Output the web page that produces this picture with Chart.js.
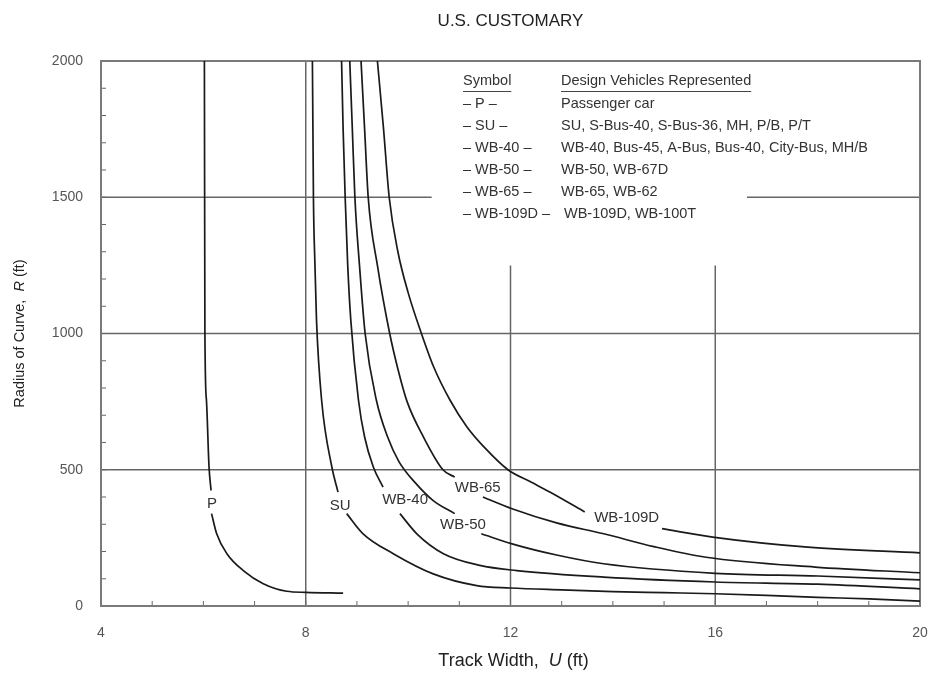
<!DOCTYPE html>
<html>
<head>
<meta charset="utf-8">
<script src="https://cdn.jsdelivr.net/npm/chart.js@4.4.0/dist/chart.umd.min.js"></script>
<style>
  html, body { margin: 0; padding: 0; background: #fff; }
  #wrap { width: 935px; height: 684px; }
</style>
</head>
<body>
<div id="wrap"><canvas id="grafico"></canvas></div>
<script>
// ancho de via U (ft) contra radio R (ft); null = hueco donde va la etiqueta
const uP = [6.02, 6.03, 6.06, 6.11, 6.15, 6.155, 6.16, 6.26, 6.46, 6.78, 7.17, 7.63, 8.0, 8.73];
const rP = [2000, 1000, 755, 512, 424, null, 339, 265, 192, 130, 82, 54, 50, 47];

const uSU = [8.13, 8.14, 8.15, 8.18, 8.21, 8.31, 8.51, 8.63, 8.7, 8.80, 9.12, 9.71, 10.49, 11.34, 12, 13, 14, 15, 16, 17, 18, 19, 20];
const rSU = [2000, 1750, 1502, 1250, 1049, 755, 510, 418, null, 339, 265, 192, 118, 75, 66, 59, 53, 49, 45, 39, 32, 26, 18];

const uWB40 = [8.70, 8.73, 8.77, 8.82, 8.88, 9.03, 9.15, 9.32, 9.51, 9.7, 9.84, 10.17, 10.69, 11.40, 12.12, 13.82, 16, 18, 20];
const rWB40 = [2000, 1750, 1500, 1250, 1049, 755, 620, 510, 436, null, 339, 265, 192, 149, 130, 106, 88, 80, 63];

const uWB50 = [8.86, 8.91, 8.96, 9.05, 9.16, 9.38, 9.6, 9.82, 10.15, 10.49, 10.91, 11.2, 11.43, 12.03, 12.9, 13.82, 16, 18, 20];
const rWB50 = [2000, 1750, 1500, 1250, 1000, 755, 620, 530, 450, 387, 339, null, 265, 228, 187, 155, 120, 110, 96];

const uWB65 = [9.08, 9.15, 9.22, 9.40, 9.64, 9.80, 9.98, 10.3, 10.68, 10.91, 11.2, 11.46, 12.03, 12.9, 13.82, 14.8, 15.82, 17.95, 20];
const rWB65 = [2000, 1750, 1500, 1250, 1000, 870, 750, 620, 500, 473, null, 400, 357, 305, 265, 218, 179, 143, 122];

const uWB109 = [9.40, 9.52, 9.63, 9.80, 10.00, 10.26, 10.50, 10.82, 11.15, 11.50, 11.95, 12.40, 12.83, 13.45, 14.2, 14.96, 15.95, 17.81, 20];
const rWB109 = [2000, 1750, 1500, 1300, 1150, 1000, 877, 755, 657, 580, 500, 455, 412, 345, null, 284, 253, 216, 195];

const etiquetas = ['P', 'SU', 'WB-40', 'WB-50', 'WB-65', 'WB-109D'];
const etiquetaU = [6.17, 8.67, 9.94, 11.07, 11.36, 14.27];
const etiquetaR = [376, 369, 388, 296, 432, 325];

const xTicks = [4, 8, 12, 16, 20];
const yTicks = [0, 500, 1000, 1500, 2000];

const simbolos = ['\u2013 P \u2013', '\u2013 SU \u2013', '\u2013 WB-40 \u2013', '\u2013 WB-50 \u2013', '\u2013 WB-65 \u2013', '\u2013 WB-109D \u2013'];
const vehiculos = [
  'Passenger car',
  'SU, S-Bus-40, S-Bus-36, MH, P/B, P/T',
  'WB-40, Bus-45, A-Bus, Bus-40, City-Bus, MH/B',
  'WB-50, WB-67D',
  'WB-65, WB-62',
  'WB-109D, WB-100T'
];

const fuente = '"Liberation Sans", Arial, sans-serif';

function puntos(us, rs) {
  return us.map((u, i) => ({ x: u, y: rs[i] }));
}

const series = [[uP, rP], [uSU, rSU], [uWB40, rWB40], [uWB50, rWB50], [uWB65, rWB65], [uWB109, rWB109]];

const datasets = series.map((s, i) => ({
  label: etiquetas[i],
  data: puntos(s[0], s[1]),
  borderColor: '#1a1a1a',
  borderWidth: 1.7,
  pointRadius: 0,
  cubicInterpolationMode: 'monotone',
  spanGaps: false,
  fill: false
}));

// rejilla, marco y marcas menores
const marcoPlugin = {
  id: 'marco',
  beforeDatasetsDraw(chart) {
    const { ctx, chartArea, scales } = chart;
    const x = scales.x, y = scales.y;
    ctx.save();
    ctx.strokeStyle = '#666';
    ctx.lineWidth = 1.5;

    const linea = (x1, y1, x2, y2) => {
      ctx.beginPath();
      ctx.moveTo(x.getPixelForValue(x1), y.getPixelForValue(y1));
      ctx.lineTo(x.getPixelForValue(x2), y.getPixelForValue(y2));
      ctx.stroke();
    };

    linea(4, 500, 20, 500);
    linea(4, 1000, 20, 1000);
    linea(4, 1500, 10.46, 1500);
    linea(16.62, 1500, 20, 1500);
    linea(8, 0, 8, 2000);
    linea(12, 0, 12, 1250);
    linea(16, 0, 16, 1250);

    // marcas menores
    ctx.lineWidth = 1;
    for (let u = 5; u < 20; u++) {
      const px = x.getPixelForValue(u);
      ctx.beginPath();
      ctx.moveTo(px, chartArea.bottom);
      ctx.lineTo(px, chartArea.bottom - 5);
      ctx.stroke();
    }
    for (let r = 100; r < 2000; r += 100) {
      const py = y.getPixelForValue(r);
      ctx.beginPath();
      ctx.moveTo(chartArea.left, py);
      ctx.lineTo(chartArea.left + 5, py);
      ctx.stroke();
    }

    ctx.lineWidth = 2;
    ctx.strokeStyle = '#7a7a7a';
    ctx.strokeRect(chartArea.left, chartArea.top, chartArea.right - chartArea.left, chartArea.bottom - chartArea.top);
    ctx.restore();
  }
};

// textos: etiquetas de curvas, tabla, titulos
const textosPlugin = {
  id: 'textos',
  afterDraw(chart) {
    const { ctx, chartArea, scales } = chart;
    ctx.save();
    ctx.fillStyle = '#333';
    ctx.textAlign = 'center';
    ctx.textBaseline = 'middle';
    ctx.font = '15px ' + fuente;
    etiquetas.forEach((t, i) => {
      ctx.fillText(t, scales.x.getPixelForValue(etiquetaU[i]), scales.y.getPixelForValue(etiquetaR[i]));
    });

    // tabla de vehiculos
    ctx.textAlign = 'left';
    ctx.font = '14.5px ' + fuente;
    const col1 = 463, col2 = 561;
    ctx.fillText('Symbol', col1, 81);
    ctx.fillText('Design Vehicles Represented', col2, 81);
    ctx.strokeStyle = '#444';
    ctx.lineWidth = 1;
    ctx.beginPath();
    ctx.moveTo(col1, 91.5);
    ctx.lineTo(col1 + ctx.measureText('Symbol').width, 91.5);
    ctx.moveTo(col2, 91.5);
    ctx.lineTo(col2 + ctx.measureText('Design Vehicles Represented').width, 91.5);
    ctx.stroke();
    simbolos.forEach((s, i) => {
      const fy = 104 + i * 22;
      ctx.fillText(s, col1, fy);
      ctx.fillText(vehiculos[i], col2 + (i === 5 ? 3 : 0), fy);
    });

    // titulo
    const cx = (chartArea.left + chartArea.right) / 2;
    ctx.textAlign = 'center';
    ctx.fillStyle = '#222';
    ctx.font = '17px ' + fuente;
    ctx.fillText('U.S. CUSTOMARY', cx, 21);

    // titulo eje x con U en cursiva
    ctx.font = '18px ' + fuente;
    const a = 'Track Width,  ', c = ' (ft)';
    const wa = ctx.measureText(a).width, wc = ctx.measureText(c).width;
    ctx.font = 'italic 18px ' + fuente;
    const wb = ctx.measureText('U').width;
    let px = cx + 3 - (wa + wb + wc) / 2;
    ctx.textAlign = 'left';
    ctx.font = '18px ' + fuente;
    ctx.fillText(a, px, 661);
    ctx.font = 'italic 18px ' + fuente;
    ctx.fillText('U', px + wa, 661);
    ctx.font = '18px ' + fuente;
    ctx.fillText(c, px + wa + wb, 661);

    // titulo eje y con R en cursiva
    ctx.translate(20, (chartArea.top + chartArea.bottom) / 2);
    ctx.rotate(-Math.PI / 2);
    ctx.font = '14.5px ' + fuente;
    const ya = 'Radius of Curve,  ', yc = ' (ft)';
    const wya = ctx.measureText(ya).width, wyc = ctx.measureText(yc).width;
    ctx.font = 'italic 14.5px ' + fuente;
    const wyb = ctx.measureText('R').width;
    px = -(wya + wyb + wyc) / 2;
    ctx.font = '14.5px ' + fuente;
    ctx.fillText(ya, px, 0);
    ctx.font = 'italic 14.5px ' + fuente;
    ctx.fillText('R', px + wya, 0);
    ctx.font = '14.5px ' + fuente;
    ctx.fillText(yc, px + wya + wyb, 0);
    ctx.restore();
  }
};

const ctx = document.getElementById('grafico').getContext('2d');

const myChart = new Chart(ctx, {
  type: 'line',
  data: { datasets: datasets },
  options: {
    responsive: true,
    maintainAspectRatio: false,
    animation: false,
    events: [],
    layout: { padding: { top: 61, right: 15, bottom: 0, left: 0 } },
    plugins: {
      legend: { display: false },
      tooltip: { enabled: false },
      title: { display: false }
    },
    scales: {
      x: {
        type: 'linear',
        min: 4,
        max: 20,
        afterBuildTicks: (scale) => { scale.ticks = xTicks.map(v => ({ value: v })); },
        afterFit: (scale) => { scale.height = 78; },
        // tickLength separa las etiquetas sin sumar margen lateral
        grid: { display: false, drawTicks: true, tickLength: 19 },
        border: { display: false },
        ticks: {
          color: '#555',
          font: { family: fuente, size: 14 },
          padding: 0,
          maxRotation: 0,
          callback: (v) => String(v)
        }
      },
      y: {
        type: 'linear',
        min: 0,
        max: 2000,
        afterBuildTicks: (scale) => { scale.ticks = yTicks.map(v => ({ value: v })); },
        afterFit: (scale) => { scale.width = 101; },
        grid: { display: false, drawTicks: false },
        border: { display: false },
        ticks: {
          color: '#555',
          font: { family: fuente, size: 14 },
          padding: 18,
          callback: (v) => String(v)
        }
      }
    }
  },
  plugins: [marcoPlugin, textosPlugin]
});
</script>
</body>
</html>
